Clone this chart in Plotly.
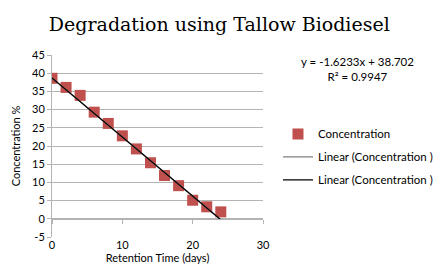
import plotly.graph_objects as go

days = [0, 2, 4, 6, 8, 10, 12, 14, 16, 18, 20, 22, 24]
concentration = [38.6, 36.1, 33.9, 29.3, 26.2, 22.8, 19.2, 15.4, 11.9, 9.1, 5.1, 3.3, 1.9]
slope = -1.6233
intercept = 38.702
r2 = 0.9947
trend_x = [0, 24]
trend_y = [slope * v + intercept for v in trend_x]

x_ticks = [0, 10, 20, 30]
y_ticks = list(range(-5, 50, 5))
y_ticktext = [str(v) for v in y_ticks]

font = "Lato, Open Sans, sans-serif"
grid = "#b3b3b3"

fig = go.Figure()
fig.add_trace(go.Scatter(x=days, y=concentration, mode="markers", name="Concentration",
                         legendgroup="a",
                         marker=dict(symbol="square", size=11, color="#c0504d")))
fig.add_trace(go.Scatter(x=trend_x, y=trend_y, mode="lines", name="Linear (Concentration )",
                         legendgroup="b",
                         line=dict(color="#808080", width=1.2)))
fig.add_trace(go.Scatter(x=trend_x, y=trend_y, mode="lines", name="Linear (Concentration )",
                         legendgroup="c",
                         line=dict(color="#000000", width=1.2)))
# zero-crossing horizontal axis
fig.add_trace(go.Scatter(x=[None], y=[None], xaxis="x2", showlegend=False))

fig.update_layout(
    width=436, height=266,
    margin=dict(l=52, r=173, t=55, b=29, autoexpand=False),
    paper_bgcolor="white", plot_bgcolor="white",
    font=dict(family=font, size=11, color="#000000"),
    title=dict(text="Degradation using Tallow Biodiesel", x=0.503, xanchor="center",
               y=0.91, yanchor="middle",
               font=dict(family="DejaVu Serif, serif", size=19, color="#000000")),
    xaxis=dict(range=[0, 30], tickvals=x_ticks, showgrid=False, zeroline=False,
               showline=False, ticks="", tickfont=dict(size=11), automargin=False,
               title=dict(text="Retention Time (days)", font=dict(size=11), standoff=2)),
    xaxis2=dict(range=[0, 30], overlaying="x", anchor="free", position=0.1,
                tickvals=x_ticks, showticklabels=False, showgrid=False, zeroline=False,
                showline=True, linecolor=grid, linewidth=1, ticks="outside",
                ticklen=4, tickcolor=grid),
    yaxis=dict(range=[-5, 45], tickvals=y_ticks, ticktext=y_ticktext, showgrid=True,
               gridcolor=grid, automargin=False,
               gridwidth=1, zeroline=False, showline=True, linecolor=grid,
               ticks="outside", ticklen=4, tickcolor=grid, tickfont=dict(size=11),
               title=dict(text="Concentration %", font=dict(size=11), standoff=9)),
    legend=dict(x=1.071, y=0.44, xanchor="left", yanchor="middle",
                font=dict(size=11.5), tracegroupgap=4, itemwidth=30,
                bgcolor="rgba(0,0,0,0)"),
    annotations=[dict(text=f"y = {slope}x + {intercept}<br>R² = {r2}", x=1.45, y=1.009,
                      xref="paper", yref="paper", showarrow=False, xanchor="center",
                      yanchor="top", font=dict(size=11.5), align="center")],
)

fig.write_html("out.html", config={"displayModeBar": False},
               post_script="document.body.style.margin='0';document.body.style.overflow='hidden';")
